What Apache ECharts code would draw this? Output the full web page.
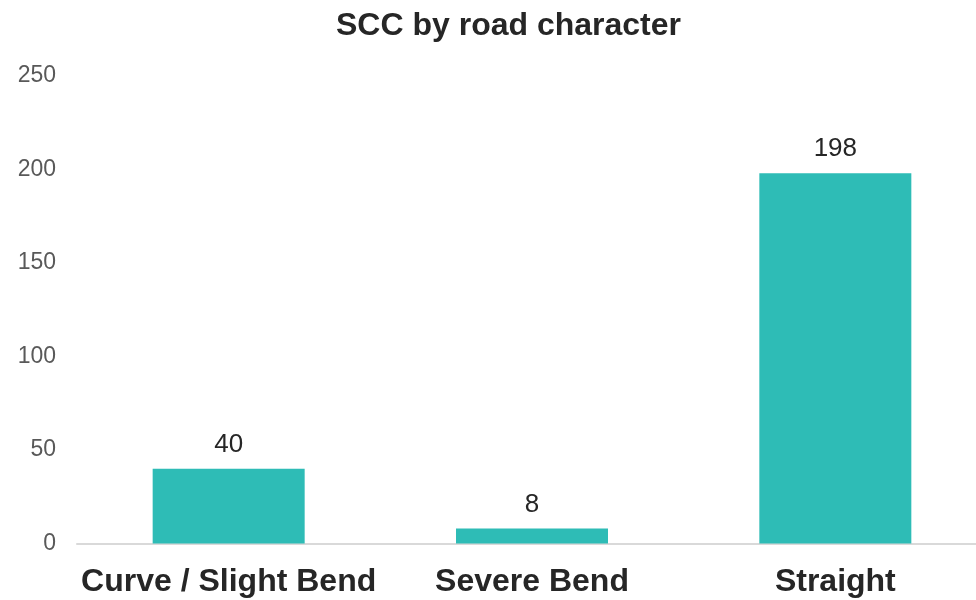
<!DOCTYPE html>
<html>
<head>
<meta charset="utf-8">
<script src="https://cdn.jsdelivr.net/npm/echarts@6/dist/echarts.min.js"></script>
<style>html,body{margin:0;padding:0;background:#fff}#c{width:976px;height:600px}</style>
</head>
<body>
<div id="c"></div>
<script>
const categories = ["Curve / Slight Bend", "Severe Bend", "Straight"];
const values = [40, 8, 198];
const yTicks = [0, 50, 100, 150, 200, 250];

const chart = echarts.init(document.getElementById('c'));
chart.setOption({
  backgroundColor: '#ffffff',
  animation: false,
  textStyle: { fontFamily: 'Liberation Sans, Arial, sans-serif' },
  title: {
    text: 'SCC by road character',
    left: 331, top: 5,
    textStyle: { fontSize: 32, fontWeight: 'bold', color: '#262626', fontFamily: 'Liberation Sans, Arial, sans-serif' }
  },
  grid: { left: 77, top: 76, width: 910, height: 467.5, containLabel: false, outerBoundsMode: 'none' },
  xAxis: {
    type: 'category', data: categories,
    axisLine: { show: true, lineStyle: { color: '#d9d9d9', width: 2 } },
    axisTick: { show: false },
    axisLabel: { fontSize: 32, fontWeight: 'bold', color: '#262626', margin: 23, interval: 0 }
  },
  yAxis: {
    type: 'value', min: yTicks[0], max: yTicks[yTicks.length - 1], interval: 50,
    splitLine: { show: false },
    axisLine: { show: false }, axisTick: { show: false },
    axisLabel: { fontSize: 23, color: '#595959', margin: 21 }
  },
  series: [{
    type: 'bar', data: values, barWidth: 152,
    itemStyle: { color: '#2ebcb6' },
    label: { show: true, position: 'top', distance: 11, fontSize: 26, color: '#262626' }
  }]
});
</script>
</body>
</html>
